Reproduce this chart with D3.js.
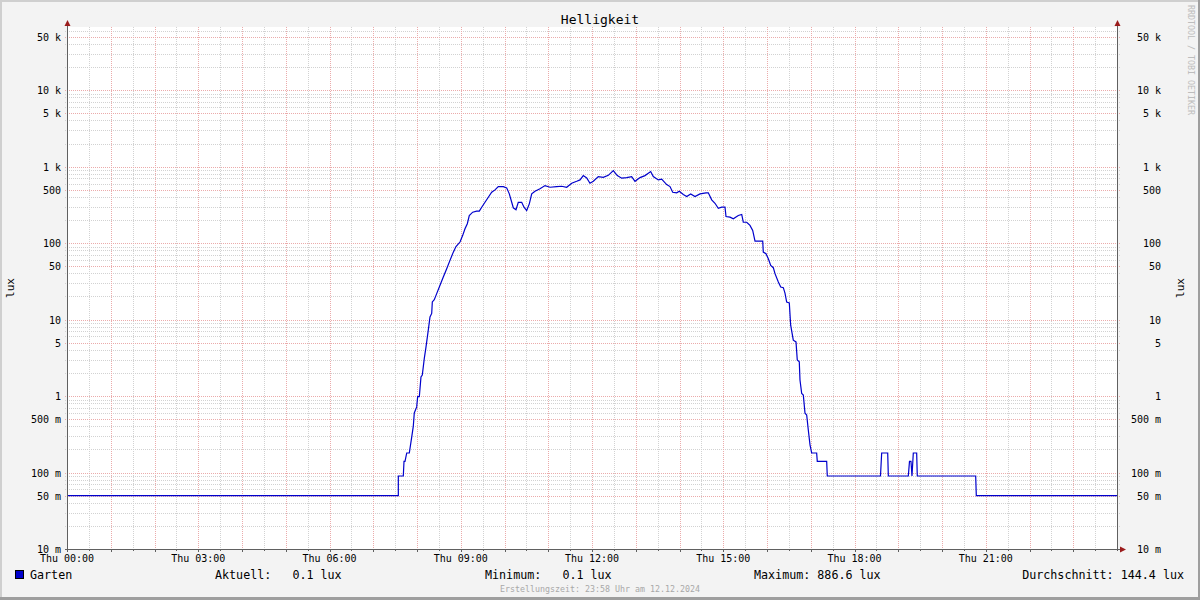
<!DOCTYPE html>
<html><head><meta charset="utf-8">
<script src="https://cdn.jsdelivr.net/npm/d3@7"></script>
<style>
body{margin:0;background:#f3f3f3;}
svg{display:block;}
text{font-family:"DejaVu Sans Mono",monospace;}
</style></head><body>
<svg id="c" width="1200" height="600"></svg>
<script>
const title = "Helligkeit";
const yAxisLabel = "lux";
const seriesName = "Garten";
const watermark = "RRDTOOL / TOBI OETIKER";
const footer = "Erstellungszeit: 23:58 Uhr am 12.12.2024";
const xTickHours = [0, 3, 6, 9, 12, 15, 18, 21];
const xTickLabels = ["Thu 00:00","Thu 03:00","Thu 06:00","Thu 09:00","Thu 12:00","Thu 15:00","Thu 18:00","Thu 21:00"];
const legendStats = ["Aktuell:   0.1 lux", "Minimum:   0.1 lux", "Maximum: 886.6 lux", "Durchschnitt: 144.4 lux"];

const hours = [0,7.573,7.573,7.687,7.703,7.726,7.765,7.824,7.879,7.915,7.938,7.993,8.015,8.053,8.091,8.121,8.167,8.206,8.258,8.297,8.336,8.350,8.395,8.450,8.526,8.601,8.679,8.754,8.830,8.891,8.983,9.045,9.097,9.150,9.195,9.273,9.365,9.424,9.479,9.554,9.630,9.707,9.783,9.858,9.973,10.050,10.110,10.165,10.201,10.263,10.315,10.393,10.446,10.507,10.567,10.622,10.697,10.811,10.926,11.040,11.193,11.307,11.421,11.536,11.650,11.726,11.801,11.879,11.954,12.030,12.144,12.258,12.373,12.487,12.578,12.679,12.793,12.907,12.983,13.097,13.211,13.341,13.401,13.515,13.593,13.707,13.783,13.845,13.936,13.995,14.087,14.165,14.256,14.354,14.469,14.606,14.658,14.736,14.811,14.887,14.964,15.040,15.063,15.154,15.230,15.344,15.422,15.458,15.536,15.611,15.673,15.726,15.902,15.915,15.977,16.030,16.085,16.144,16.183,16.259,16.314,16.373,16.411,16.450,16.510,16.541,16.601,16.663,16.692,16.738,16.754,16.793,16.830,16.869,16.907,16.944,16.983,17.021,17.135,17.149,17.364,17.378,18.594,18.621,18.759,18.773,19.230,19.257,19.291,19.314,19.344,19.421,19.435,20.770,20.784,24];
const lux = [0.05,0.05,0.09,0.09,0.14,0.14,0.18,0.18,0.29,0.40,0.6,0.72,0.98,0.98,1.78,1.88,3.1,4.4,7.25,10.8,12,17,18.2,21.8,28,35.9,46.2,59.3,76,90,103,126,154,179,229,253,261,261,294,341,397,461,495,547,547,526,439,341,289,272,341,341,294,266,325,439,475,511,564,536,547,552,536,604,641,669,761,710,604,641,738,723,767,886.6,761,705,715,738,641,716,761,860,738,669,686,581,547,461,453,475,430,405,439,405,439,453,453,367,331,285,294,294,222,218,207,229,236,187,187,170,146,106,106,76,72.5,62.4,51,47.6,39.8,30.9,26.6,26.1,22.2,16.9,16.5,8.43,5.37,5.1,2.95,2.8,1.62,1.08,1.03,0.595,0.565,0.36,0.23,0.18,0.18,0.14,0.14,0.09,0.09,0.18,0.18,0.09,0.09,0.14,0.14,0.09,0.18,0.18,0.09,0.09,0.05,0.05];

const W = 1200, H = 600;
const L = 67, R = 1117, T = 27, B = 549;
const svg = d3.select("#c");

// background & frame
svg.append("rect").attr("x",0).attr("y",0).attr("width",W).attr("height",H).attr("fill","#f3f3f3");
svg.append("rect").attr("x",0).attr("y",0).attr("width",W).attr("height",2).attr("fill","#cfcfcf");
svg.append("rect").attr("x",0).attr("y",0).attr("width",2).attr("height",H).attr("fill","#cfcfcf");
svg.append("rect").attr("x",0).attr("y",H-3).attr("width",W).attr("height",3).attr("fill","#9e9e9e");
svg.append("rect").attr("x",W-2).attr("y",0).attr("width",2).attr("height",H).attr("fill","#9e9e9e");

// plot canvas
svg.append("rect").attr("x",L).attr("y",T).attr("width",R-L).attr("height",B-T).attr("fill","#ffffff");

const x = d3.scaleLinear().domain([0,24]).range([L,R]);
const y = d3.scaleLog().domain([0.01,66700]).range([B,T]);

// y ticks
const yTicks = [];
for (let e=-2; e<=4; e++) for (let k=1; k<=9; k++) {
  const v = k*Math.pow(10,e);
  if (v>=0.01 && v<=66700) yTicks.push({v, major: (k===1||k===5)});
}
function fmtY(v){
  if (v>=1000) return d3.format("~g")(v/1000)+" k";
  if (v<1) return d3.format("~g")(Math.round(v*1000))+" m";
  return d3.format("~g")(v);
}
const py = v => Math.round(y(v))+0.5;
const px = h => Math.round(x(h))+0.5;
const minorC = "#d2d2d2", majorC = "#ebabab";
const g = svg.append("g");
g.selectAll(".hmin").data(yTicks.filter(d=>!d.major && d.v>0.01)).join("line")
  .attr("x1",L-2).attr("x2",R+3).attr("y1",d=>py(d.v)).attr("y2",d=>py(d.v))
  .attr("stroke",minorC).attr("stroke-dasharray","1,1");
const vMinor = d3.range(0.5,24,1), vMajor = d3.range(1,24,1);
g.selectAll(".vmin").data(vMinor).join("line")
  .attr("x1",d=>px(d)).attr("x2",d=>px(d)).attr("y1",T).attr("y2",B)
  .attr("stroke",minorC).attr("stroke-dasharray","1,1");
g.selectAll(".vmaj").data(vMajor).join("line")
  .attr("x1",d=>px(d)).attr("x2",d=>px(d)).attr("y1",T).attr("y2",B)
  .attr("stroke",majorC).attr("stroke-dasharray","1,1");
g.selectAll(".hmaj").data(yTicks.filter(d=>d.major && d.v>0.01)).join("line")
  .attr("x1",L-2).attr("x2",R+3).attr("y1",d=>py(d.v)).attr("y2",d=>py(d.v))
  .attr("stroke",majorC).attr("stroke-dasharray","1,1");

// data line
const line = d3.line().x((d,i)=>x(hours[i])).y((d,i)=>y(lux[i]));
svg.append("path").datum(lux).attr("d",line).attr("fill","none").attr("stroke","#0000cc").attr("stroke-width",1.2);

// axes
const axisColor = "#606060";
svg.append("line").attr("x1",L+0.5).attr("x2",L+0.5).attr("y1",B+2).attr("y2",T-4).attr("stroke",axisColor);
svg.append("line").attr("x1",R+0.5).attr("x2",R+0.5).attr("y1",B+2).attr("y2",T-4).attr("stroke",axisColor);
svg.append("line").attr("x1",L-2).attr("x2",R+4).attr("y1",B+0.5).attr("y2",B+0.5).attr("stroke",axisColor);
const arrowC = "#9b1c1c";
svg.append("path").attr("d",`M${L-2.5},${T-1} L${L+0.5},${T-7} L${L+3.5},${T-1} Z`).attr("fill",arrowC);
svg.append("path").attr("d",`M${R-2.5},${T-1} L${R+0.5},${T-7} L${R+3.5},${T-1} Z`).attr("fill",arrowC);
svg.append("path").attr("d",`M${R+3},${B-2.5} L${R+9},${B+0.5} L${R+3},${B+3.5} Z`).attr("fill",arrowC);

// axis ticks
svg.selectAll(".xt").data(vMajor.concat([0])).join("line")
  .attr("x1",d=>px(d)).attr("x2",d=>px(d)).attr("y1",B).attr("y2",B+3).attr("stroke",axisColor);
svg.selectAll(".xtm").data(vMinor).join("line")
  .attr("x1",d=>px(d)).attr("x2",d=>px(d)).attr("y1",B).attr("y2",B+2).attr("stroke",axisColor);

// y labels
const labTicks = yTicks.filter(d=>d.major);
svg.selectAll(".yll").data(labTicks).join("text")
  .attr("x",61).attr("y",d=>py(d.v)+3.5).attr("text-anchor","end").attr("font-size",10).attr("fill","#000")
  .style("white-space","pre").text(d=>fmtY(d.v));
svg.selectAll(".ylr").data(labTicks).join("text")
  .attr("x",1161).attr("y",d=>py(d.v)+3.5).attr("text-anchor","end").attr("font-size",10).attr("fill","#000")
  .style("white-space","pre").text(d=>fmtY(d.v));

// x labels
svg.selectAll(".xl").data(xTickHours).join("text")
  .attr("x",d=>x(d)).attr("y",562).attr("text-anchor","middle").attr("font-size",10).attr("fill","#000")
  .text((d,i)=>xTickLabels[i]);

// title
svg.append("text").attr("x",600).attr("y",24).attr("text-anchor","middle").attr("font-size",13).attr("fill","#000").text(title);

// axis titles
svg.append("text").attr("transform","translate(14,288) rotate(-90)").attr("text-anchor","middle").attr("font-size",11).attr("fill","#000").text(yAxisLabel);
svg.append("text").attr("transform","translate(1184,288) rotate(-90)").attr("text-anchor","middle").attr("font-size",11).attr("fill","#000").text(yAxisLabel);

// watermark
svg.append("text").attr("transform","translate(1188,5) rotate(90)").attr("text-anchor","start").attr("font-size",8.3).attr("fill","#bdbdbd").text(watermark);

// legend
svg.append("rect").attr("x",15.5).attr("y",570.5).attr("width",8).attr("height",8).attr("fill","#0000cc").attr("stroke","#000");
svg.append("text").attr("x",30).attr("y",579).attr("font-size",11.7).attr("fill","#000").text(seriesName);
const statX = [215, 485, 754];
legendStats.forEach((s,i)=>{
  const t = svg.append("text").attr("y",579).attr("font-size",11.7).attr("fill","#000").style("white-space","pre").text(s);
  if (i<3) t.attr("x",statX[i]); else t.attr("x",1184).attr("text-anchor","end");
});

// footer
svg.append("text").attr("x",600).attr("y",592).attr("text-anchor","middle").attr("font-size",8.3).attr("fill","#a8a8a8").text(footer);
</script>
</body></html>
